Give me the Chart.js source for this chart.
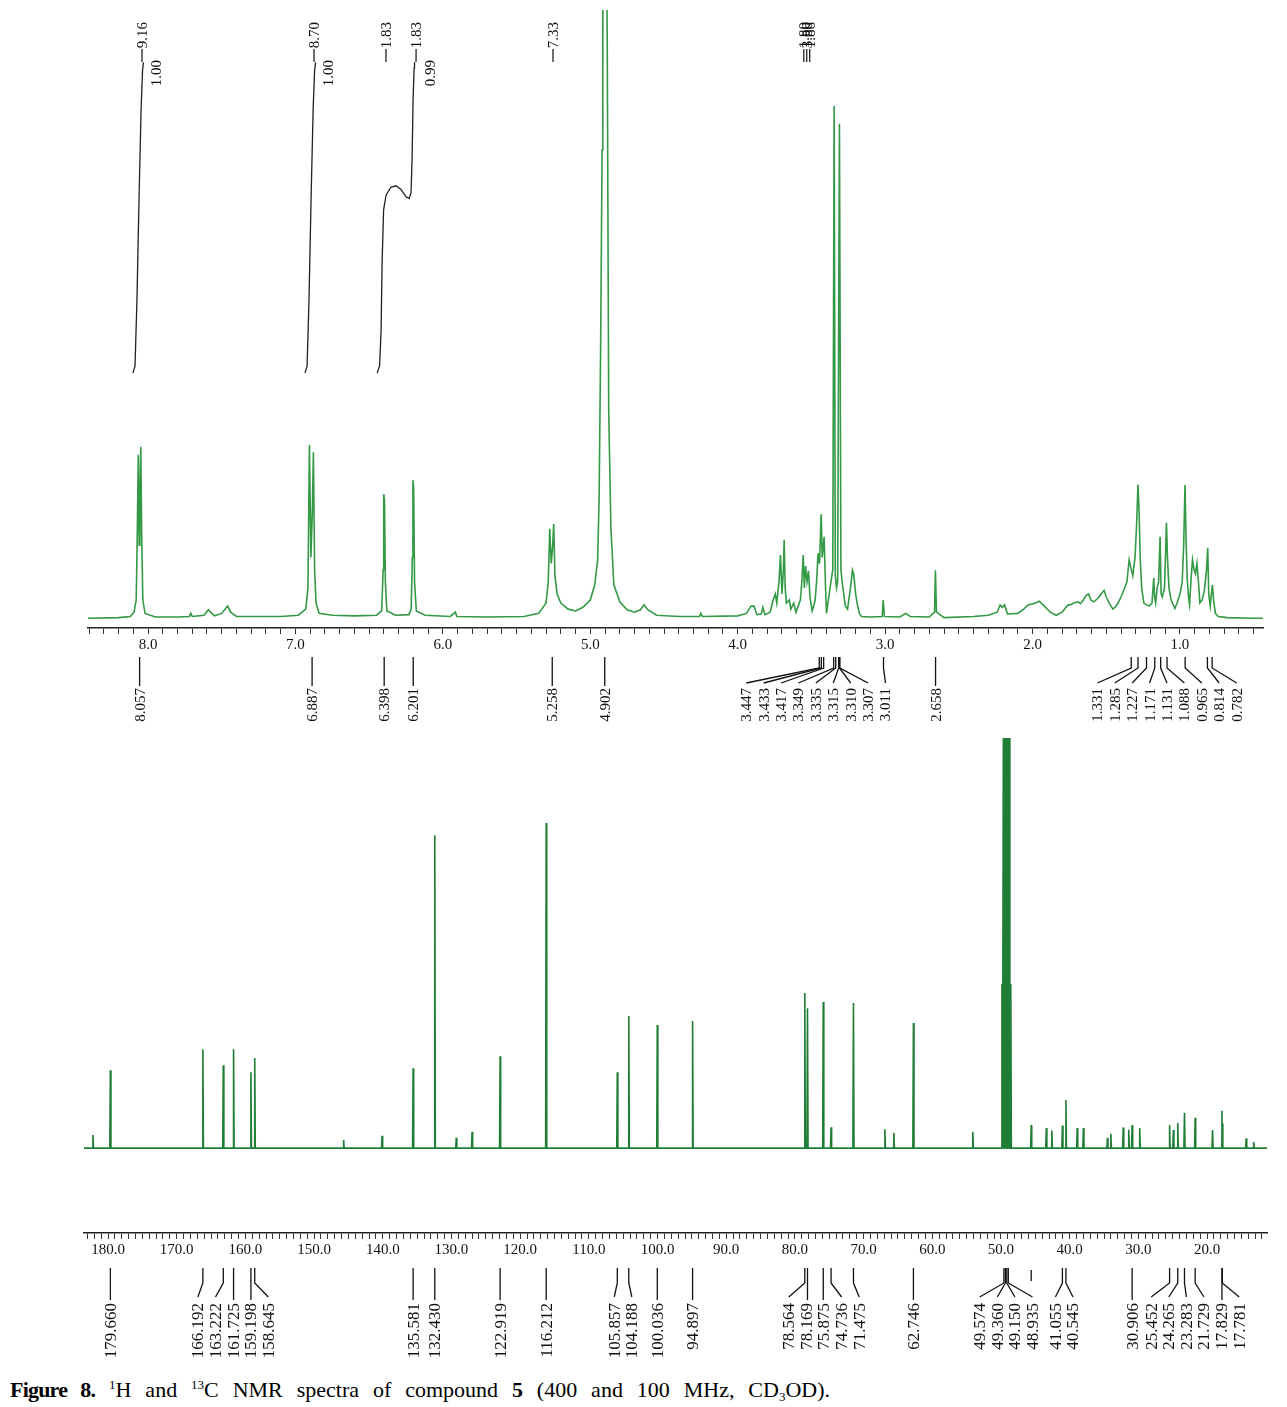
<!DOCTYPE html>
<html>
<head>
<meta charset="utf-8">
<script src="https://cdn.jsdelivr.net/npm/chart.js@4.4.1/dist/chart.umd.min.js"></script>
<style>
  body { margin: 0; background: #fff; }
  #wrap { position: relative; width: 1287px; height: 1407px; overflow: hidden; }
  canvas { position: absolute; left: 0; }
  #hCanvas { top: 0; }
  #cCanvas { top: 730px; }
  #cap {
    position: absolute; left: 10px; top: 1376px; width: 820px;
    font-family: 'Liberation Serif', 'Times New Roman', serif; font-size: 22px; line-height: 28px;
    color: #000; text-align: justify; text-align-last: justify;
  }
  #cap b.fig { letter-spacing: -0.8px; }
  #cap .sup { font-size: 13px; position: relative; top: -8px; }
  #cap .sub { font-size: 13px; position: relative; top: 4px; }
</style>
</head>
<body>
<div id="wrap">
  <canvas id="hCanvas" width="1287" height="738"></canvas>
  <canvas id="cCanvas" width="1287" height="640"></canvas>
  <div id="cap"><b class="fig">Figure 8.</b> <span class="sup">1</span>H and <span class="sup">13</span>C NMR spectra of compound <b>5</b> (400 and 100 MHz, CD<span class="sub">3</span>OD).</div>
</div>
<script>
// ---- 1H spectrum: trace [ppm, intensity] ----
const hTrace = [
  [8.41,0],[8.20,0.1],[8.12,0.3],[8.095,1.0],[8.08,3.0],[8.072,15],[8.066,26.9],[8.060,12],[8.055,20],[8.049,28.2],[8.043,14],[8.035,3],[8.02,0.8],
  [7.95,0.2],[7.80,0.2],[7.72,0.3],[7.71,0.8],[7.70,0.3],[7.62,0.5],[7.59,1.4],[7.575,1.0],[7.55,0.4],[7.50,0.8],[7.46,2.0],[7.44,1.0],[7.40,0.3],[7.10,0.3],[6.98,0.5],
  [6.93,1.5],[6.915,5],[6.905,28.5],[6.895,10],[6.885,18],[6.878,27.3],[6.87,8],[6.86,2.5],[6.84,0.8],[6.75,0.5],[6.60,0.4],[6.45,0.5],
  [6.415,1.2],[6.405,8],[6.401,20.4],[6.396,19.5],[6.39,6],[6.38,1.2],[6.32,0.5],[6.23,0.6],[6.215,1.5],[6.207,10],[6.203,22.7],[6.198,21.5],[6.192,6],[6.18,1.2],[6.12,0.5],
  [5.95,0.3],[5.915,1.0],[5.905,0.3],[5.70,0.2],[5.45,0.3],[5.35,0.8],[5.30,2.5],[5.285,6],[5.275,14.7],[5.265,9],[5.255,12],[5.248,15.5],[5.24,7],[5.225,4],[5.20,2.5],[5.15,1.5],[5.10,1.2],
  [5.05,1.8],[5.00,3.0],[4.97,5.5],[4.95,9.6],[4.94,20],[4.93,44],[4.92,77],[4.915,110],[4.89,110],[4.885,95],[4.875,34],[4.86,14.7],[4.84,5.5],[4.80,2.7],[4.75,1.4],[4.70,1.0],
  [4.66,1.4],[4.635,2.2],[4.61,1.4],[4.55,0.5],[4.40,0.3],[4.26,0.3],[4.25,0.8],[4.24,0.3],[4.00,0.4],
  [3.94,0.8],[3.91,2.0],[3.89,2.0],[3.87,0.6],[3.84,0.7],[3.83,1.8],[3.815,0.6],[3.78,1.0],[3.76,3.0],[3.745,4.0],[3.735,2.5],[3.72,6],[3.71,10.4],[3.70,4],[3.69,8],[3.685,12.9],[3.678,5],
  [3.67,2.5],[3.65,3.0],[3.64,1.5],[3.62,2.5],[3.605,1.0],[3.59,2.0],[3.575,3.0],[3.565,6],[3.556,10.4],[3.548,5],[3.54,8.6],[3.53,6.0],[3.52,7.8],[3.51,3.5],[3.495,1.2],
  [3.485,2],[3.475,3],[3.465,6],[3.455,10.7],[3.445,9],[3.434,17.1],[3.427,10],[3.414,13.4],[3.405,5.6],[3.398,0.8],[3.385,3],[3.37,5.6],[3.355,8],[3.346,84.2],[3.338,7],
  [3.33,5],[3.322,6],[3.310,81.3],[3.30,8],[3.29,5.6],[3.27,2],[3.255,1.5],[3.235,5],[3.222,7.9],[3.213,7.2],[3.20,4],[3.19,2.5],[3.175,0.8],[3.16,0.3],[3.10,0.2],
  [3.02,0.3],[3.013,3.0],[3.005,0.3],[2.90,0.2],[2.86,0.8],[2.83,0.3],[2.70,0.2],[2.665,1],[2.659,7.9],[2.652,1],[2.60,0.1],
  [2.40,0.3],[2.30,0.5],[2.24,1.0],[2.22,2.2],[2.205,1.8],[2.19,2.2],[2.17,0.7],[2.10,0.8],[2.06,1.5],[2.03,2.2],[1.98,2.5],[1.955,2.8],[1.92,2.0],[1.88,1.0],[1.84,0.5],
  [1.80,1.0],[1.76,2.2],[1.745,2.2],[1.72,2.5],[1.69,2.7],[1.675,2.4],[1.655,3.0],[1.635,3.8],[1.62,4.0],[1.605,3.0],[1.585,2.7],[1.56,3.2],[1.535,4.0],[1.515,4.6],[1.50,3.5],
  [1.48,2.5],[1.455,1.5],[1.44,1.8],[1.42,2.5],[1.40,3.5],[1.38,4.7],[1.36,6],[1.345,9.6],[1.335,8.5],[1.32,7],[1.305,10],[1.295,15],[1.285,22],[1.278,18],[1.27,10],[1.26,5],
  [1.245,2.5],[1.225,2.2],[1.21,2.0],[1.19,2.5],[1.178,6.6],[1.172,3.5],[1.165,2.5],[1.155,5],[1.145,6],[1.135,13.4],[1.128,4],[1.12,3.5],[1.105,5],[1.092,15.7],[1.085,10],
  [1.075,5],[1.06,3],[1.035,1.6],[1.02,2.5],[1.00,4],[0.985,6],[0.975,12],[0.966,21.9],[0.958,12],[0.95,6],[0.94,3],[0.935,2.2],[0.925,6.5],[0.915,9.6],[0.905,8],
  [0.895,7.3],[0.885,9],[0.875,6],[0.865,2.5],[0.85,3],[0.835,4.5],[0.82,8],[0.812,11.6],[0.805,4],[0.795,2],[0.787,4],[0.78,5.5],[0.772,3],[0.76,0.8],[0.74,0.3],
  [0.68,0.1],[0.50,0],[0.437,0]
];

// integration curves (black), [ppm, level]
const hIntegral1 = [[8.102,40.3],[8.088,41.5],[8.075,52.3],[8.061,68.8],[8.047,83.6],[8.037,90.1],[8.031,91.4]];
const hIntegral2 = [[6.935,40.3],[6.921,41.5],[6.908,52.3],[6.894,68.8],[6.880,83.6],[6.870,90.1],[6.863,91.4]];
const hIntegral3 = [[6.446,40.3],[6.429,41.5],[6.419,47.4],[6.412,58.6],[6.402,67.1],[6.385,69.6],[6.351,70.9],[6.317,71.1],
  [6.284,70.5],[6.250,69.3],[6.229,69.0],[6.216,69.9],[6.209,75.3],[6.202,85.2],[6.195,90.5],[6.192,91.4]];

// integral marks at the top
const hIntPpm  = [8.034, 6.867, 6.379, 6.175, 5.246, 3.545, 3.525, 3.505];
const hIntText = ['9.16', '8.70', '1.83', '1.83', '7.33', '1.80', '3.80', '1.86'];
const hIntVal  = ['1.00', '1.00', '', '0.99', '', '', '', ''];

// peak labels under the 1H axis
const hPeakLabels = [8.057, 6.887, 6.398, 6.201, 5.258, 4.902, 3.447, 3.433, 3.417, 3.349, 3.335, 3.315, 3.310, 3.307,
  3.011, 2.658, 1.331, 1.285, 1.227, 1.171, 1.131, 1.088, 0.965, 0.814, 0.782];

// ---- 13C spectrum: peaks [ppm, height] ----
const cPeaks = [
  [182.2,3.2],[179.660,19.0],[166.192,24.1],[163.222,20.2],[161.725,24.1],[159.198,18.5],[158.645,22.0],[145.7,2.0],[140.1,3.0],
  [135.581,19.5],[132.430,76.3],[129.3,2.5],[127.0,4.0],[122.919,22.4],[116.212,79.3],[105.857,18.5],[104.188,32.2],[100.036,30.0],
  [94.897,31.0],[78.564,37.8],[78.169,34.1],[75.875,35.6],[74.736,5.1],[71.475,35.4],[66.9,4.6],[65.6,3.7],[62.746,30.5],[54.1,3.9],
  [49.86,40],[49.64,110],[49.43,170],[49.21,200],[49.00,170],[48.79,110],[48.57,40],
  [45.6,5.6],[43.4,4.9],[42.6,4.3],[41.055,5.5],[40.545,11.7],[38.9,4.9],[38.0,4.9],[34.5,2.5],[34.0,3.5],[32.2,5.0],[31.4,4.5],
  [30.906,5.6],[29.8,4.9],[25.452,5.6],[24.9,4.4],[24.265,6.1],[23.283,8.6],[21.729,7.4],[19.2,4.4],[17.829,9.1],[17.781,6.0],[14.3,2.4],[13.2,1.5]
];
const cPeakLabels = [179.660, 166.192, 163.222, 161.725, 159.198, 158.645, 135.581, 132.430, 122.919, 116.212, 105.857, 104.188,
  100.036, 94.897, 78.564, 78.169, 75.875, 74.736, 71.475, 62.746, 49.574, 49.360, 49.150, 48.935, 41.055, 40.545,
  30.906, 25.452, 24.265, 23.283, 21.729, 17.829, 17.781];
const cExtraStubs = [45.6];

// ---------- helpers ----------
function spread(xs, gap) {
  // keep labels at least `gap` apart, as close to their peaks as possible
  const n = xs.length;
  const w = xs.map((x, i) => {
    const l = i > 0 ? x - xs[i - 1] : Infinity;
    const r = i < n - 1 ? xs[i + 1] - x : Infinity;
    return Math.min(l, r) > 2 * gap ? 100 : 1;
  });
  const cl = [];
  for (let i = 0; i < n; i++) {
    cl.push({ n: 1, W: w[i], S: w[i] * xs[i], s: xs[i] });
    while (cl.length > 1) {
      const b = cl[cl.length - 1], a = cl[cl.length - 2];
      if (a.s + a.n * gap <= b.s) break;
      const m = { n: a.n + b.n, W: a.W + b.W, S: a.S + b.S - b.W * a.n * gap };
      m.s = m.S / m.W;
      cl.splice(cl.length - 2, 2, m);
    }
  }
  const out = [];
  cl.forEach(c => { for (let k = 0; k < c.n; k++) out.push(c.s + k * gap); });
  return out;
}

function vText(ctx, text, x, yTop) {
  ctx.save();
  ctx.translate(x, yTop);
  ctx.rotate(-Math.PI / 2);
  ctx.textAlign = 'right';
  ctx.textBaseline = 'middle';
  ctx.fillText(text, 0, 0);
  ctx.restore();
}

const peakLabels = {
  id: 'peakLabels',
  afterDraw(chart, args, o) {
    const ctx = chart.ctx, xs = chart.scales.x;
    const items = o.ppm.map(p => ({ x: xs.getPixelForValue(p), t: p.toFixed(3) })).sort((a, b) => a.x - b.x);
    const pos = spread(items.map(i => i.x), o.gap);
    ctx.save();
    ctx.strokeStyle = '#111';
    ctx.fillStyle = '#111';
    ctx.lineWidth = 1.3;
    ctx.font = o.font;
    items.forEach((it, i) => {
      const lx = pos[i];
      ctx.beginPath();
      ctx.moveTo(it.x, o.y0);
      if (Math.abs(lx - it.x) < 1.5) {
        ctx.lineTo(it.x, o.y3);
      } else {
        ctx.lineTo(it.x, o.y1);
        ctx.lineTo(lx, o.y2);
      }
      ctx.stroke();
      vText(ctx, it.t, lx + 1, o.yText);
    });
    (o.stubs || []).forEach(p => {
      const x = xs.getPixelForValue(p);
      ctx.beginPath();
      ctx.moveTo(x, o.y0 + 2);
      ctx.lineTo(x, o.y1 - 2);
      ctx.stroke();
    });
    ctx.restore();
  }
};

const intMarks = {
  id: 'intMarks',
  afterDraw(chart, args, o) {
    if (!o.ppm) return;
    const ctx = chart.ctx, xs = chart.scales.x;
    ctx.save();
    ctx.strokeStyle = '#222';
    ctx.fillStyle = '#111';
    ctx.lineWidth = 1.3;
    ctx.font = o.font;
    o.ppm.forEach((p, i) => {
      const x = xs.getPixelForValue(p);
      ctx.beginPath();
      ctx.moveTo(x - 1, 49);
      ctx.lineTo(x - 1, 62);
      ctx.stroke();
      vText(ctx, o.text[i], x, 22);
      if (o.val[i]) vText(ctx, o.val[i], x + 14, 60);
    });
    ctx.restore();
  }
};

function axisX(min, max, step, isMajor, fmt) {
  return {
    type: 'linear', reverse: true, min: min, max: max,
    afterFit: s => { s.height = 30; },
    ticks: {
      stepSize: step, includeBounds: false, autoSkip: false, maxRotation: 0, padding: 2,
      color: '#111', font: { family: 'Liberation Serif', size: 15 },
      callback: v => isMajor(v) ? fmt(v) : ''
    },
    grid: { display: true, drawOnChartArea: false, drawTicks: true, tickLength: 6, color: '#333', lineWidth: 1 },
    border: { display: true, color: '#222', width: 1.5 }
  };
}

const noLegend = { legend: { display: false }, tooltip: { enabled: false } };
const toXY = arr => arr.map(d => ({ x: d[0], y: d[1] }));

// ---------- 1H chart ----------
new Chart(document.getElementById('hCanvas'), {
  type: 'line',
  data: {
    datasets: [
      { data: toXY(hTrace), borderColor: '#339944', borderWidth: 1.6 },
      { data: toXY(hIntegral1), borderColor: '#222', borderWidth: 1.3 },
      { data: toXY(hIntegral2), borderColor: '#222', borderWidth: 1.3 },
      { data: toXY(hIntegral3), borderColor: '#222', borderWidth: 1.3 }
    ]
  },
  options: {
    responsive: false, animation: false, devicePixelRatio: 1,
    elements: { point: { radius: 0 }, line: { tension: 0 } },
    layout: { padding: { left: 88, right: 24, top: 10, bottom: 80 } },
    scales: {
      x: axisX(0.437, 8.407, 0.1, v => Math.abs(v - Math.round(v)) < 1e-6, v => Math.round(v).toFixed(1)),
      y: { display: false, min: -1.6, max: 100 }
    },
    plugins: Object.assign({}, noLegend, {
      peakLabels: { ppm: hPeakLabels, gap: 17.4, font: '15px "Liberation Serif"', y0: 657, y1: 668, y2: 683, y3: 686, yText: 688 },
      intMarks: { ppm: hIntPpm, text: hIntText, val: hIntVal, font: '15px "Liberation Serif"' }
    })
  },
  plugins: [peakLabels, intMarks]
});

// ---------- 13C chart ----------
function cSpectrum() {
  const hw = 0.08;
  const pts = [{ x: 183.5, y: 0 }];
  cPeaks.slice().sort((a, b) => b[0] - a[0]).forEach(d => {
    pts.push({ x: d[0] + hw, y: 0 }, { x: d[0], y: d[1] }, { x: d[0] - hw, y: 0 });
  });
  pts.push({ x: 11.27, y: 0 });
  return pts;
}

new Chart(document.getElementById('cCanvas'), {
  type: 'line',
  data: { datasets: [{ data: cSpectrum(), borderColor: '#1f7d36', borderWidth: 1.6 }] },
  options: {
    responsive: false, animation: false, devicePixelRatio: 1,
    elements: { point: { radius: 0 }, line: { tension: 0 } },
    layout: { padding: { left: 84, right: 20, top: 8, bottom: 107 } },
    scales: {
      x: axisX(11.27, 183.5, 1, v => Math.abs(v / 10 - Math.round(v / 10)) < 1e-6, v => Math.round(v).toFixed(1)),
      y: { display: false, min: -20.7, max: 100 }
    },
    plugins: Object.assign({}, noLegend, {
      peakLabels: { ppm: cPeakLabels, stubs: cExtraStubs, gap: 17.6, font: '17px "Liberation Serif"', y0: 538, y1: 553, y2: 567, y3: 570, yText: 573 }
    })
  },
  plugins: [peakLabels]
});
</script>
</body>
</html>
